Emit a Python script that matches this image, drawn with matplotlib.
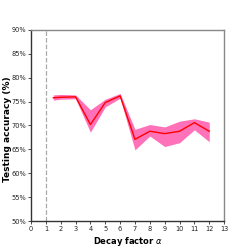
import numpy as np
import matplotlib
matplotlib.use("Agg")
import matplotlib.pyplot as plt
from matplotlib.ticker import FuncFormatter

# decay factor vs testing accuracy
alpha = [1.5, 2, 3, 4, 5, 6, 7, 8, 9, 10, 11, 12]
acc_mean = [75.8, 75.9, 76.0, 70.2, 74.8, 76.2, 67.1, 68.8, 68.3, 68.8, 70.6, 68.8]
acc_upper = [76.4, 76.5, 76.4, 73.3, 75.5, 76.7, 69.2, 70.2, 69.7, 70.9, 71.4, 70.7]
acc_lower = [75.3, 75.5, 75.6, 68.6, 73.9, 75.7, 64.9, 67.8, 65.6, 66.4, 69.1, 66.6]

fig = plt.figure(figsize=(2.49, 2.49), dpi=100)
ax = fig.add_axes([0.1245, 0.112, 0.7755, 0.768])

ax.fill_between(alpha, acc_lower, acc_upper, color='#ff69b4', linewidth=0, alpha=0.95)
ax.plot(alpha, acc_mean, color='red', linewidth=1.0)
ax.axvline(1, color='#aaaaaa', linestyle='--', linewidth=0.9)

ax.set_xlim(0, 13)
ax.set_ylim(50, 90)
ax.set_xticks(range(0, 14))
ax.set_yticks(range(50, 91, 5))
ax.yaxis.set_major_formatter(FuncFormatter(lambda v, p: '%d%%' % v))
ax.tick_params(labelsize=4.8, length=2, width=0.5, pad=1.2, labelcolor='#222222')
for lab in ax.get_xticklabels() + ax.get_yticklabels():
    lab.set_family(['Liberation Sans Narrow', 'DejaVu Sans'])

for s in ['top', 'right']:
    ax.spines[s].set_color('#888888')
for s in ['left', 'bottom']:
    ax.spines[s].set_color('#333333')
for s in ax.spines.values():
    s.set_linewidth(1.0)

ax.set_xlabel(r'Decay factor $\alpha$', fontsize=6, fontweight='bold',
              family=['Liberation Sans Narrow', 'DejaVu Sans'])
ax.set_ylabel('Testing accuracy (%)', fontsize=6.5, fontweight='bold')
ax.xaxis.set_label_coords(0.5, -0.075)
ax.yaxis.set_label_coords(-0.098, 0.48)

fig.savefig('out.png', dpi=100)
